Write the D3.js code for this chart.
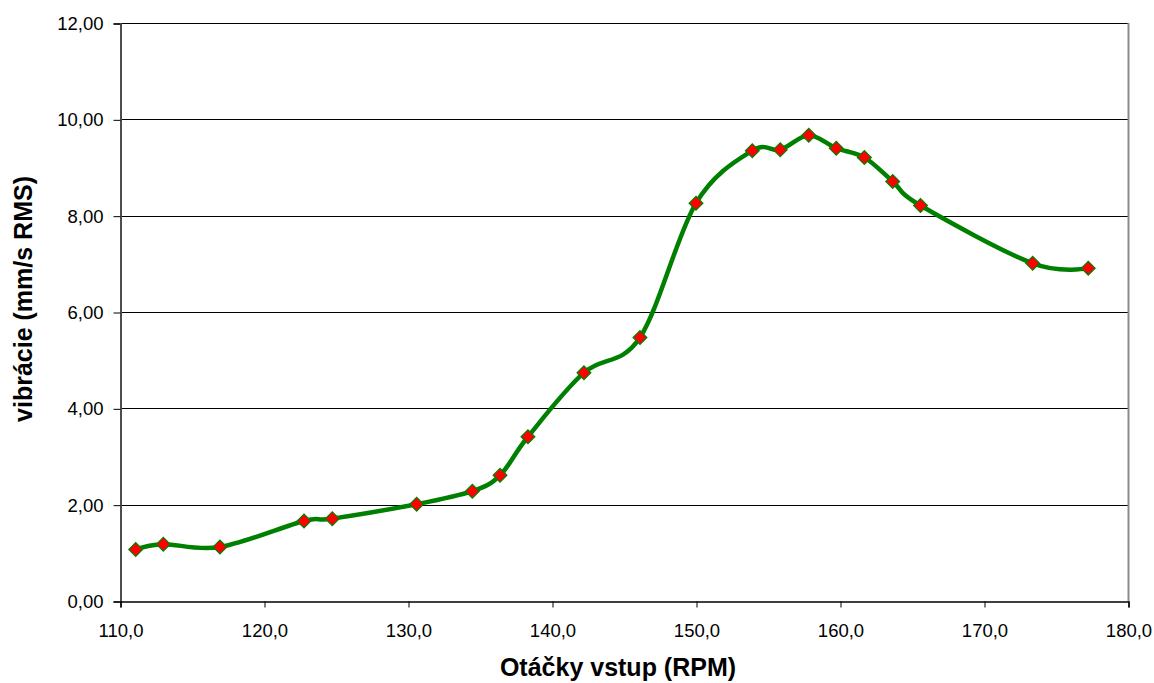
<!DOCTYPE html>
<html>
<head>
<meta charset="utf-8">
<script src="https://cdn.jsdelivr.net/npm/d3@7"></script>
<style>
  html, body { margin: 0; padding: 0; background: #fff; }
  svg { display: block; font-family: "Liberation Sans", Arial, sans-serif; }
</style>
</head>
<body>
<div id="chart"></div>
<script>
// RPM readings and the matching vibration values (mm/s RMS)
const rpm = [111.09, 113.01, 116.94, 122.78, 124.74, 130.6, 134.47, 136.39, 138.33, 142.22,
  146.11, 150.0, 153.91, 155.85, 157.83, 159.74, 161.69, 163.66, 165.59, 173.38, 177.24];
const vibration = [1.07, 1.18, 1.12, 1.66, 1.71, 2.01, 2.28, 2.61, 3.41, 4.74,
  5.47, 8.26, 9.35, 9.37, 9.67, 9.40, 9.21, 8.71, 8.21, 7.01, 6.91];

const xTicks = [110, 120, 130, 140, 150, 160, 170, 180];
const yTicks = [0, 2, 4, 6, 8, 10, 12];

const xTitle = "Otáčky vstup (RPM)";
const yTitle = "vibrácie (mm/s RMS)";

const W = 1154, H = 683;
const plot = { left: 120, right: 1128, top: 23, bottom: 601 };

const data = rpm.map((r, i) => ({ x: r, y: vibration[i] }));

const x = d3.scaleLinear().domain([110, 180]).range([plot.left, plot.right]);
const y = d3.scaleLinear().domain([0, 12]).range([plot.bottom, plot.top]);

const comma = (v, d) => v.toFixed(d).replace(".", ",");

const svg = d3.select("#chart").append("svg")
  .attr("width", W)
  .attr("height", H);

svg.append("rect").attr("width", W).attr("height", H).attr("fill", "#fff");

// horizontal grid lines
svg.append("g")
  .selectAll("line")
  .data(yTicks.slice(1))
  .join("line")
  .attr("x1", plot.left)
  .attr("x2", plot.right)
  .attr("y1", (d) => Math.round(y(d)) + 0.5)
  .attr("y2", (d) => Math.round(y(d)) + 0.5)
  .attr("stroke", "#000")
  .attr("stroke-width", 1);

// right border of the plot area
svg.append("line")
  .attr("x1", plot.right + 0.5).attr("x2", plot.right + 0.5)
  .attr("y1", plot.top).attr("y2", plot.bottom)
  .attr("stroke", "#8c8c8c")
  .attr("stroke-width", 2);

// y axis
const yAxis = d3.axisLeft(y)
  .tickValues(yTicks)
  .tickSize(7)
  .tickPadding(10)
  .tickFormat((d) => comma(d, 2));

svg.append("g")
  .attr("transform", `translate(${plot.left + 0.5},0.5)`)
  .call(yAxis)
  .call((g) => g.select(".domain").attr("stroke", "#4d4d4d").attr("stroke-width", 2))
  .call((g) => g.selectAll(".tick line").attr("stroke", "#000"))
  .call((g) => g.selectAll(".tick text")
    .attr("font-size", "18.5px")
    .attr("fill", "#000")
    .attr("font-family", "Liberation Sans, Arial, sans-serif"));

// x axis
const xAxis = d3.axisBottom(x)
  .tickValues(xTicks)
  .tickSize(6)
  .tickPadding(16)
  .tickFormat((d) => comma(d, 1));

svg.append("g")
  .attr("transform", `translate(0.5,${plot.bottom + 0.5})`)
  .call(xAxis)
  .call((g) => g.select(".domain").attr("stroke", "#000").attr("stroke-width", 1.5))
  .call((g) => g.selectAll(".tick line").attr("stroke", "#000"))
  .call((g) => g.selectAll(".tick text")
    .attr("font-size", "18.5px")
    .attr("fill", "#000")
    .attr("font-family", "Liberation Sans, Arial, sans-serif"));

// smoothed series line
const line = d3.line()
  .x((d) => x(d.x))
  .y((d) => y(d.y))
  .curve(d3.curveCardinal.tension(0));

svg.append("path")
  .datum(data)
  .attr("d", line)
  .attr("fill", "none")
  .attr("stroke", "#008000")
  .attr("stroke-width", 4.5)
  .attr("stroke-linejoin", "round");

// diamond markers
const diamond = d3.symbol().type(d3.symbolSquare).size(95);
svg.append("g")
  .selectAll("path")
  .data(data)
  .join("path")
  .attr("d", diamond)
  .attr("transform", (d) => `translate(${x(d.x)},${y(d.y)}) rotate(45)`)
  .attr("fill", "#ff0000")
  .attr("stroke", "#008000")
  .attr("stroke-width", 1.2);

// axis titles
svg.append("text")
  .attr("x", 618)
  .attr("y", 676)
  .attr("text-anchor", "middle")
  .attr("font-size", "25px")
  .attr("font-weight", "bold")
  .text(xTitle);

svg.append("text")
  .attr("transform", "translate(32,299) rotate(-90)")
  .attr("text-anchor", "middle")
  .attr("font-size", "25px")
  .attr("font-weight", "bold")
  .text(yTitle);
</script>
</body>
</html>
